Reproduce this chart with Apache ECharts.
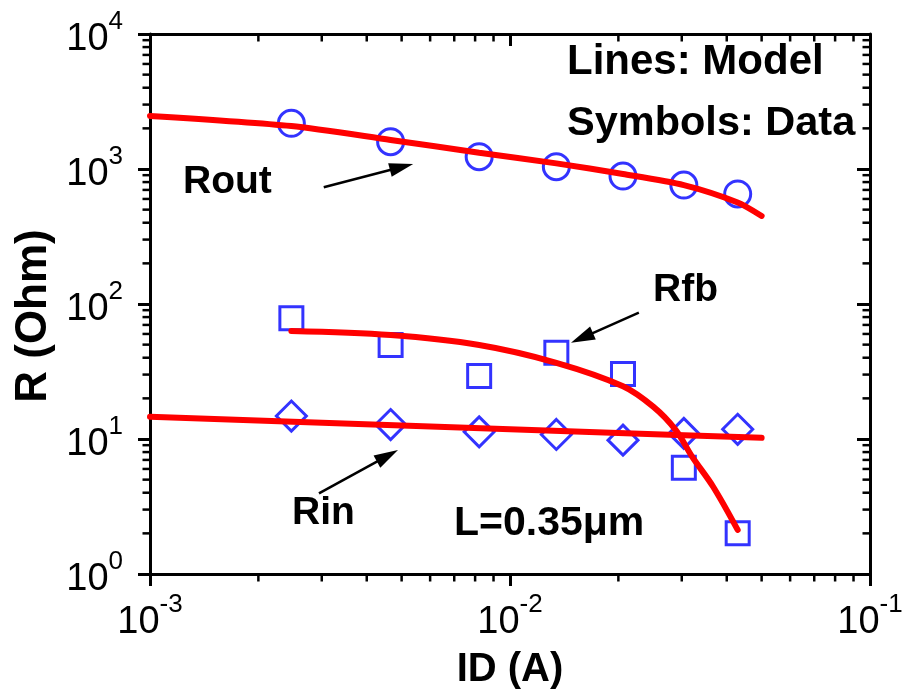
<!DOCTYPE html>
<html>
<head>
<meta charset="utf-8">
<script src="https://cdn.jsdelivr.net/npm/echarts@6/dist/echarts.min.js"></script>
<style>
html,body{margin:0;padding:0;background:#fff;}
#chart{width:909px;height:695px;}
</style>
</head>
<body>
<div id="chart"></div>
<script>
// ---- data ----
const ID = [0.00247, 0.00466, 0.00821, 0.01345, 0.0206, 0.0304, 0.0429];
const routData = [2181, 1592, 1233, 1040, 887, 761, 653];
const rfbData = [78.4, 49.7, 29.3, 43.6, 30.3, 6.13, 2.0];
const rinData = [14.8, 12.8, 11.3, 10.8, 9.8, 11.0, 11.8];

const routModelID = [0.001, 0.00247, 0.00466, 0.00821, 0.01345, 0.0206, 0.0304, 0.0429, 0.05];
const routModel = [2472, 2082, 1641, 1321, 1101, 918, 760, 565, 449];
const rfbModelID = [0.00247, 0.00466, 0.00821, 0.01345, 0.0206, 0.02504, 0.02884, 0.03205, 0.03667, 0.0429];
const rfbModel = [63.1, 58.9, 49.7, 36.7, 24.6, 17.3, 11.7, 7.4, 4.43, 2.12];
const rinModelID = [0.001, 0.005, 0.02, 0.05];
const rinModel = [14.6, 12.6, 11.1, 10.2];

// arrows: [tailID, tailR, headID, headR]
const arrowRout = [0.003038, 731.9, 0.005383, 1088.9];
const arrowRfb = [0.02280, 86.2, 0.01477, 51.7];
const arrowRin = [0.002947, 3.96, 0.004885, 8.29];

const xDecades = [0.001, 0.01];
const yDecades = [1, 10, 100, 1000];
const minorMult = [2, 3, 4, 5, 6, 7, 8, 9];

const FONT = "'Liberation Sans', Arial, sans-serif";

function zip(xs, ys) { return xs.map((x, i) => [x, ys[i]]); }

// minor tick items: [x, y, side] side 0=bottom 1=top 2=left 3=right
const minorTicks = [];
xDecades.forEach(d => minorMult.forEach(m => {
  minorTicks.push([d * m, 1, 0]);
  minorTicks.push([d * m, 1, 1]);
}));
yDecades.forEach(d => minorMult.forEach(m => {
  minorTicks.push([0.001, d * m, 2]);
  minorTicks.push([0.001, d * m, 3]);
}));

function labelFmt(v) {
  const e = Math.round(Math.log10(v));
  return '{b|10}{s|' + e + '}';
}
const richLab = {
  b: { fontSize: 38, fontFamily: FONT, color: '#000', lineHeight: 50, verticalAlign: 'bottom' },
  s: { fontSize: 26, fontFamily: FONT, color: '#000', lineHeight: 26, verticalAlign: 'top' }
};

const chart = echarts.init(document.getElementById('chart'), null, { renderer: 'canvas' });

const axisLineStyle = { show: true, onZero: false, lineStyle: { color: '#000', width: 3 } };

const option = {
  animation: false,
  backgroundColor: '#fff',
  grid: { left: 150, top: 34, width: 720, height: 540, containLabel: false },
  xAxis: [
    {
      type: 'log', logBase: 10, min: 0.001, max: 0.1, position: 'bottom',
      axisLine: axisLineStyle,
      axisTick: { show: true, inside: false, length: 12, lineStyle: { color: '#000', width: 3 } },
      axisLabel: { formatter: labelFmt, rich: richLab, margin: 18 },
      splitLine: { show: false },
      name: 'ID (A)', nameLocation: 'middle', nameGap: 76,
      nameTextStyle: { fontSize: 40, fontWeight: 'bold', fontFamily: FONT, color: '#000' }
    },
    {
      type: 'log', logBase: 10, min: 0.001, max: 0.1, position: 'top',
      axisLine: axisLineStyle,
      axisTick: { show: true, inside: true, length: 12, lineStyle: { color: '#000', width: 3 } },
      axisLabel: { show: false },
      splitLine: { show: false }
    }
  ],
  yAxis: [
    {
      type: 'log', logBase: 10, min: 1, max: 10000, position: 'left',
      axisLine: axisLineStyle,
      axisTick: { show: true, inside: false, length: 12, lineStyle: { color: '#000', width: 3 } },
      axisLabel: { formatter: labelFmt, rich: richLab, margin: 27 },
      splitLine: { show: false },
      name: 'R (Ohm)', nameLocation: 'middle', nameGap: 93, nameRotate: 90,
      nameTextStyle: { fontSize: 44, fontWeight: 'bold', fontFamily: FONT, color: '#000', padding: [0, 24, 0, 0] }
    },
    {
      type: 'log', logBase: 10, min: 1, max: 10000, position: 'right',
      axisLine: axisLineStyle,
      axisTick: { show: true, inside: true, length: 13, lineStyle: { color: '#000', width: 3 } },
      axisLabel: { show: false },
      splitLine: { show: false }
    }
  ],
  series: [
    {
      type: 'custom', name: 'minorTicks', xAxisIndex: 0, yAxisIndex: 0, clip: false, silent: true,
      data: minorTicks,
      renderItem: function (params, api) {
        const cs = params.coordSys;
        const side = api.value(2);
        const p = api.coord([api.value(0), api.value(1)]);
        let x1, y1, x2, y2;
        const L = 7.5;
        if (side === 0) { x1 = x2 = p[0]; y1 = cs.y + cs.height; y2 = y1 + L; }
        else if (side === 1) { x1 = x2 = p[0]; y1 = cs.y; y2 = y1 + L; }
        else if (side === 2) { y1 = y2 = p[1]; x1 = cs.x; x2 = x1 - L; }
        else { y1 = y2 = p[1]; x1 = cs.x + cs.width; x2 = x1 - L; }
        return { type: 'line', shape: { x1, y1, x2, y2 }, style: { stroke: '#000', lineWidth: 2.5 } };
      }
    },
    {
      type: 'scatter', name: 'Rout data', data: zip(ID, routData), symbol: 'circle', symbolSize: 26,
      itemStyle: { color: 'rgba(0,0,0,0)', borderColor: '#0000ff', borderWidth: 3 }, emphasis: { disabled: true }
    },
    {
      type: 'scatter', name: 'Rfb data', data: zip(ID, rfbData), symbol: 'rect', symbolSize: 23,
      itemStyle: { color: 'rgba(0,0,0,0)', borderColor: '#0000ff', borderWidth: 3 }, emphasis: { disabled: true }
    },
    {
      type: 'scatter', name: 'Rin data', data: zip(ID, rinData), symbol: 'diamond', symbolSize: 30,
      itemStyle: { color: 'rgba(0,0,0,0)', borderColor: '#0000ff', borderWidth: 3 }, emphasis: { disabled: true }
    },
    {
      type: 'line', name: 'Rout model', data: zip(routModelID, routModel), showSymbol: false, smooth: 0.25,
      lineStyle: { color: '#ff0000', width: 6, cap: 'round' }, emphasis: { disabled: true }
    },
    {
      type: 'line', name: 'Rfb model', data: zip(rfbModelID, rfbModel), showSymbol: false, smooth: 0.35,
      lineStyle: { color: '#ff0000', width: 6, cap: 'round' }, emphasis: { disabled: true }
    },
    {
      type: 'line', name: 'Rin model', data: zip(rinModelID, rinModel), showSymbol: false, smooth: 0.25,
      lineStyle: { color: '#ff0000', width: 6, cap: 'round' }, emphasis: { disabled: true }
    },
    {
      type: 'custom', name: 'arrows', clip: false, silent: true,
      data: [arrowRout, arrowRfb, arrowRin],
      encode: { x: [0, 2], y: [1, 3] },
      renderItem: function (params, api) {
        const a = api.coord([api.value(0), api.value(1)]);
        const b = api.coord([api.value(2), api.value(3)]);
        const dx = b[0] - a[0], dy = b[1] - a[1];
        const len = Math.sqrt(dx * dx + dy * dy);
        const ux = dx / len, uy = dy / len;
        const hl = 24, hw = 7;
        const bx = b[0] - ux * hl, by = b[1] - uy * hl;
        return {
          type: 'group',
          children: [
            { type: 'line', shape: { x1: a[0], y1: a[1], x2: bx + ux * 2, y2: by + uy * 2 }, style: { stroke: '#000', lineWidth: 2.5 } },
            { type: 'polygon', shape: { points: [[b[0], b[1]], [bx - uy * hw, by + ux * hw], [bx + uy * hw, by - ux * hw]] }, style: { fill: '#000' } }
          ]
        };
      }
    }
  ]
};

// annotation texts (x = left edge, y = vertical centre of capitals)
const texts = [
  ['Rout', 183, 182.5, 39],
  ['Rfb', 653, 290.5, 39],
  ['Rin', 292, 513, 39],
  ['L=0.35\u03bcm', 454, 523.7, 41],
  ['Lines: Model', 567, 62.5, 42],
  ['Symbols: Data', 567, 124, 41.5]
];
option.graphic = texts.map(t => ({
  type: 'text', x: t[1], y: t[2], z: 100, silent: true,
  style: { text: t[0], font: 'bold ' + t[3] + 'px ' + FONT, fill: '#000', align: 'left', verticalAlign: 'middle' }
}));

chart.setOption(option);
</script>
</body>
</html>
